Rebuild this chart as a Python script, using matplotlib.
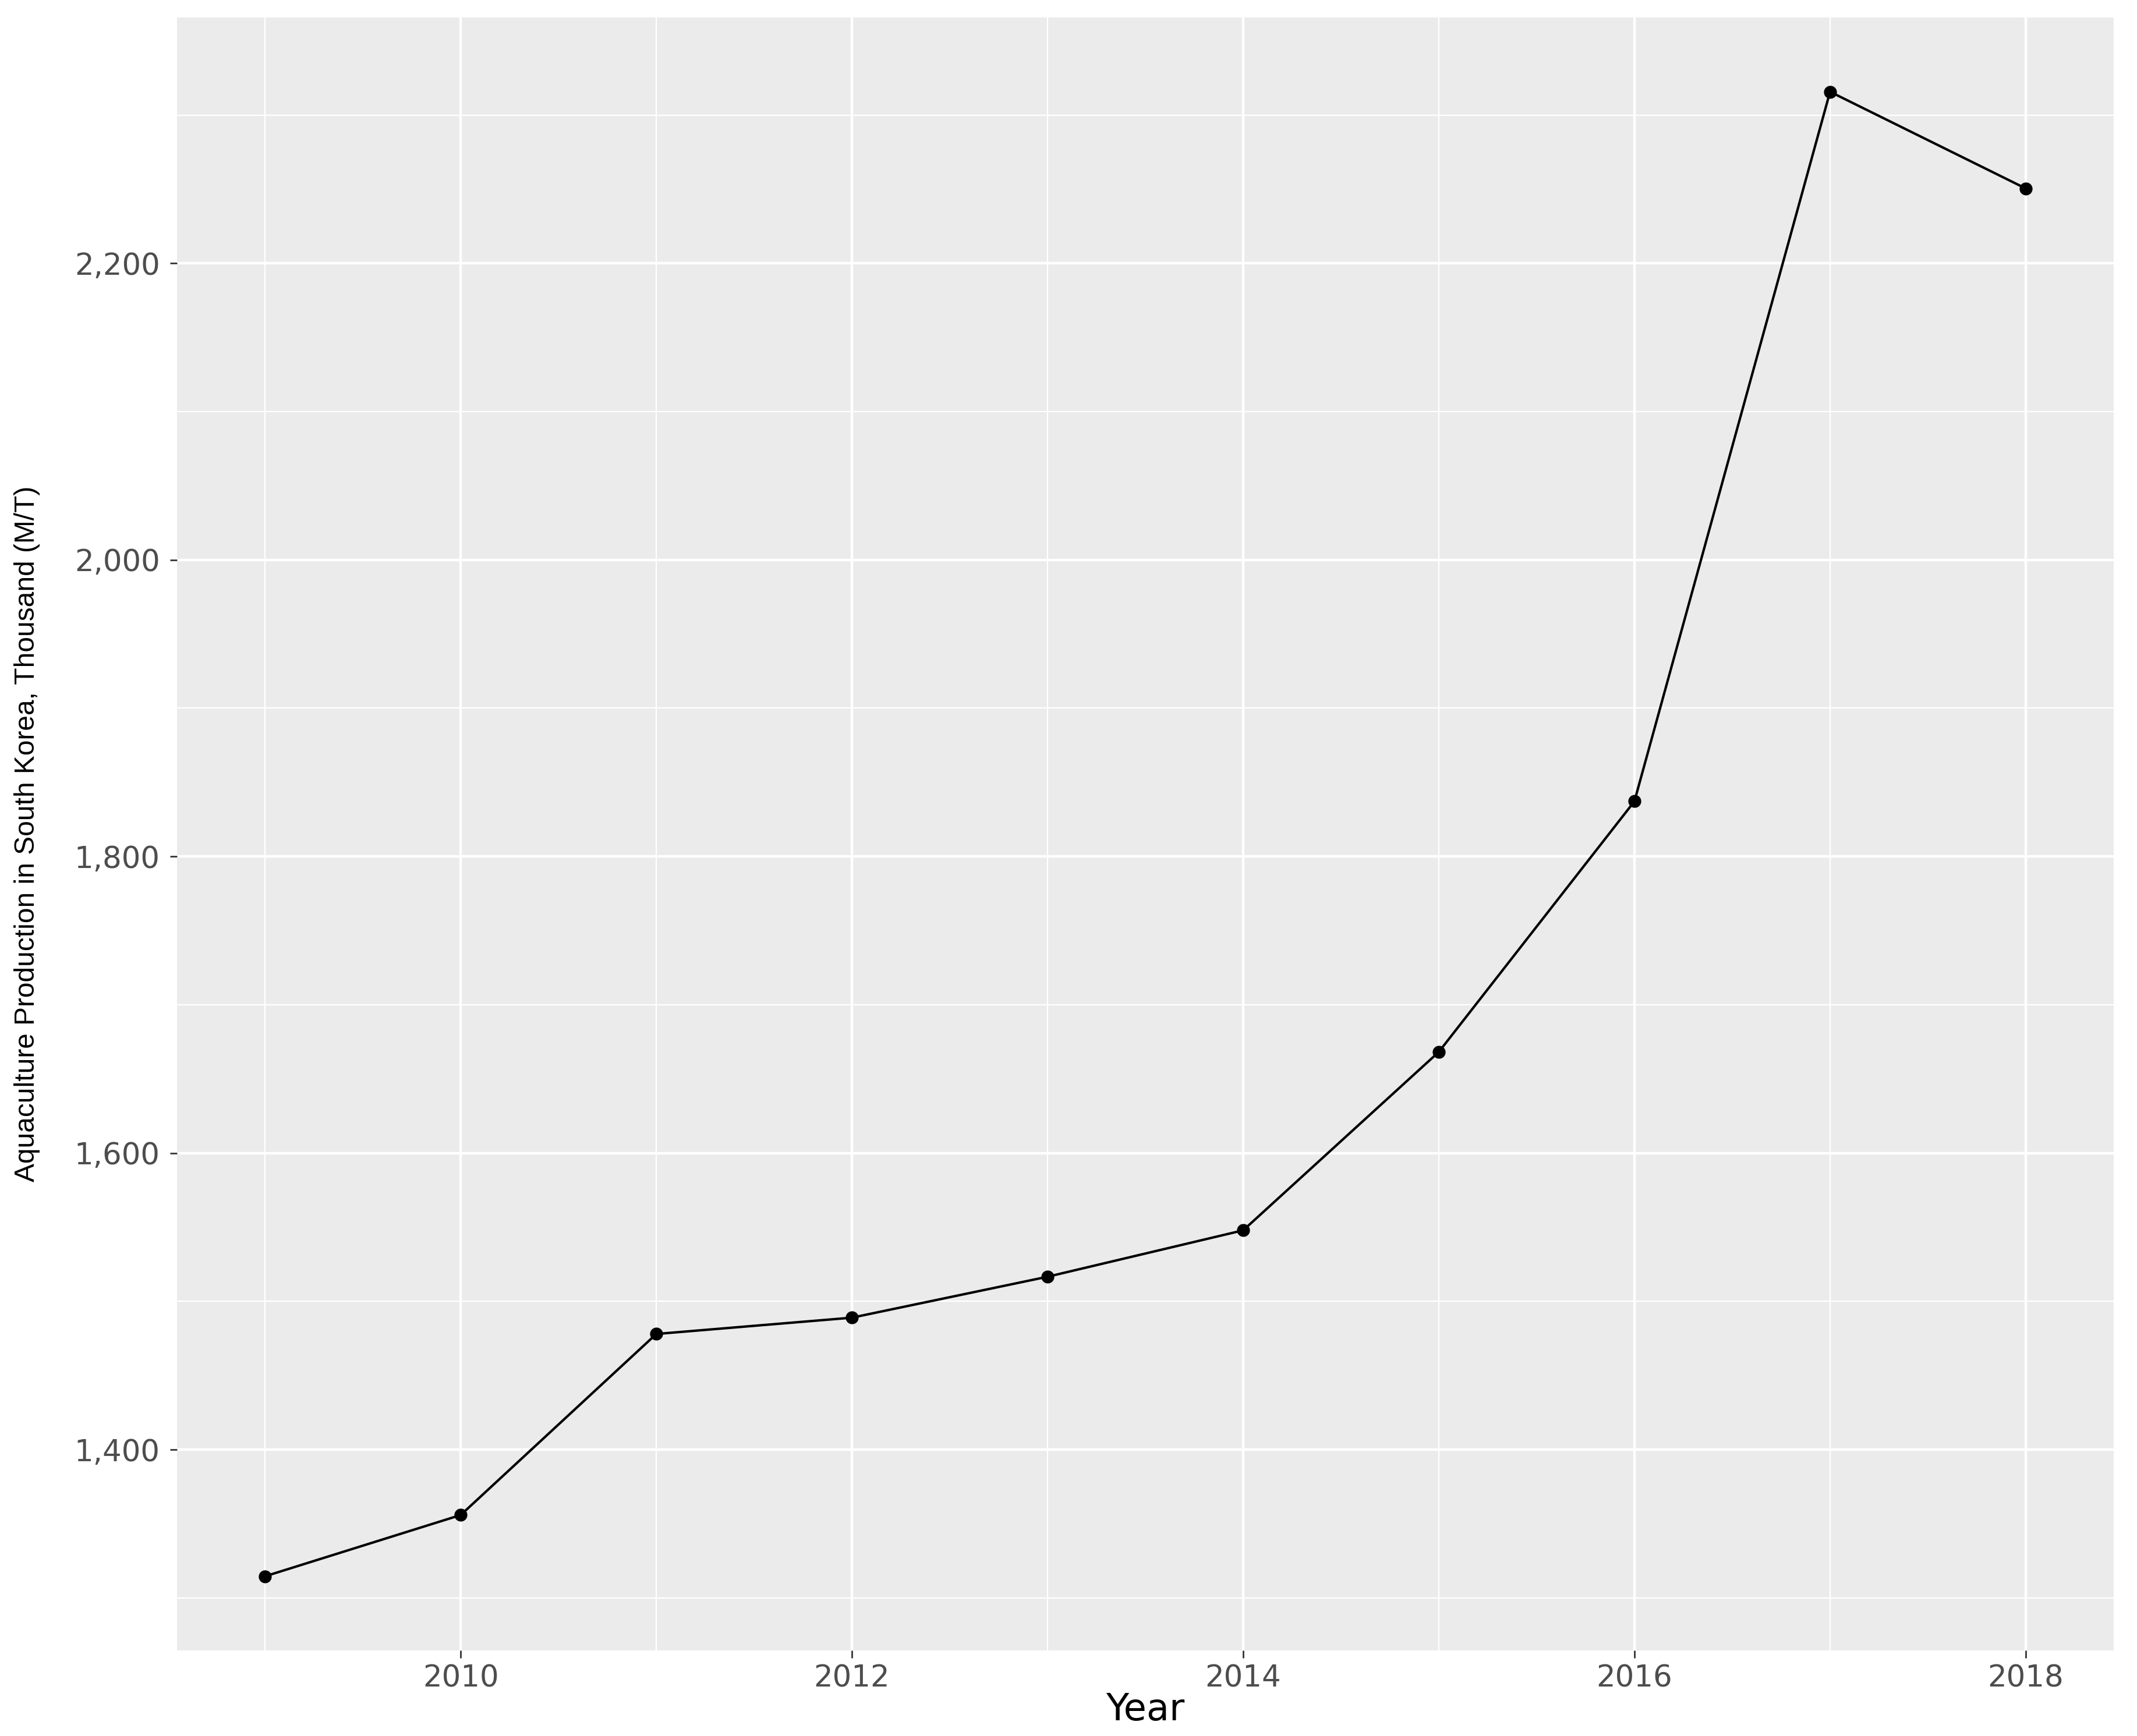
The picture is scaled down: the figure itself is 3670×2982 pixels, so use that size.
import matplotlib
matplotlib.use("Agg")
import matplotlib.pyplot as plt
from matplotlib import font_manager

years = [2009, 2010, 2011, 2012, 2013, 2014, 2015, 2016, 2017, 2018]
production = [1314.6, 1355.9, 1478.0, 1489.0, 1516.6, 1547.9, 1668.2, 1837.2, 2315.7, 2250.5]

xticks = [2010, 2012, 2014, 2016, 2018]
xtick_labels = ["2010", "2012", "2014", "2016", "2018"]
yticks = [1400, 1600, 1800, 2000, 2200]
ytick_labels = ["1,400", "1,600", "1,800", "2,000", "2,200"]
yminor = [1300, 1500, 1700, 1900, 2100, 2300]
xminor = [2009, 2011, 2013, 2015, 2017]

xlabel = "Year"
ylabel = "Aquaculture Production in South Korea, Thousand (M/T)"

names = {f.name for f in font_manager.fontManager.ttflist}
narrow = "Liberation Sans Narrow" if "Liberation Sans Narrow" in names else "Liberation Sans"
ylab_size = 40 if narrow == "Liberation Sans Narrow" else 34.5

fig = plt.figure(figsize=(36.7, 29.82), dpi=100)
ax = fig.add_axes([304/3670, 1-2835/2982, (3630-304)/3670, (2835-30)/2982])
ax.set_facecolor("#EBEBEB")
for s in ax.spines.values():
    s.set_visible(False)

ax.set_xticks(xticks)
ax.set_xticklabels(xtick_labels)
ax.set_yticks(yticks)
ax.set_yticklabels(ytick_labels)
ax.set_xticks(xminor, minor=True)
ax.set_yticks(yminor, minor=True)
ax.grid(True, which="major", color="white", linewidth=3.2)
ax.grid(True, which="minor", color="white", linewidth=1.6)
ax.set_axisbelow(True)
ax.tick_params(which="major", length=9, width=2, color="#333333",
               labelcolor="#4D4D4D", labelsize=37, labelfontfamily="DejaVu Sans")
ax.tick_params(axis="y", pad=12)
ax.tick_params(axis="x", pad=8)
ax.tick_params(which="minor", length=0)

ax.plot(years, production, color="black", linewidth=3.0, zorder=3)
ax.plot(years, production, linestyle="none", marker="o", markersize=15,
        color="black", zorder=4)

ax.set_xlim(2008.55, 2018.45)
ax.set_ylim(1264.6, 2365.8)

ax.set_xlabel(xlabel, fontsize=46, family="DejaVu Sans", color="black", va="center")
ax.xaxis.set_label_coords(0.5, -0.0365)
ax.set_ylabel(ylabel, fontsize=ylab_size, family=narrow, color="black", va="center")
ax.yaxis.set_label_coords(-0.0775, 0.5)

fig.savefig("out.png", dpi=100, facecolor="white")
